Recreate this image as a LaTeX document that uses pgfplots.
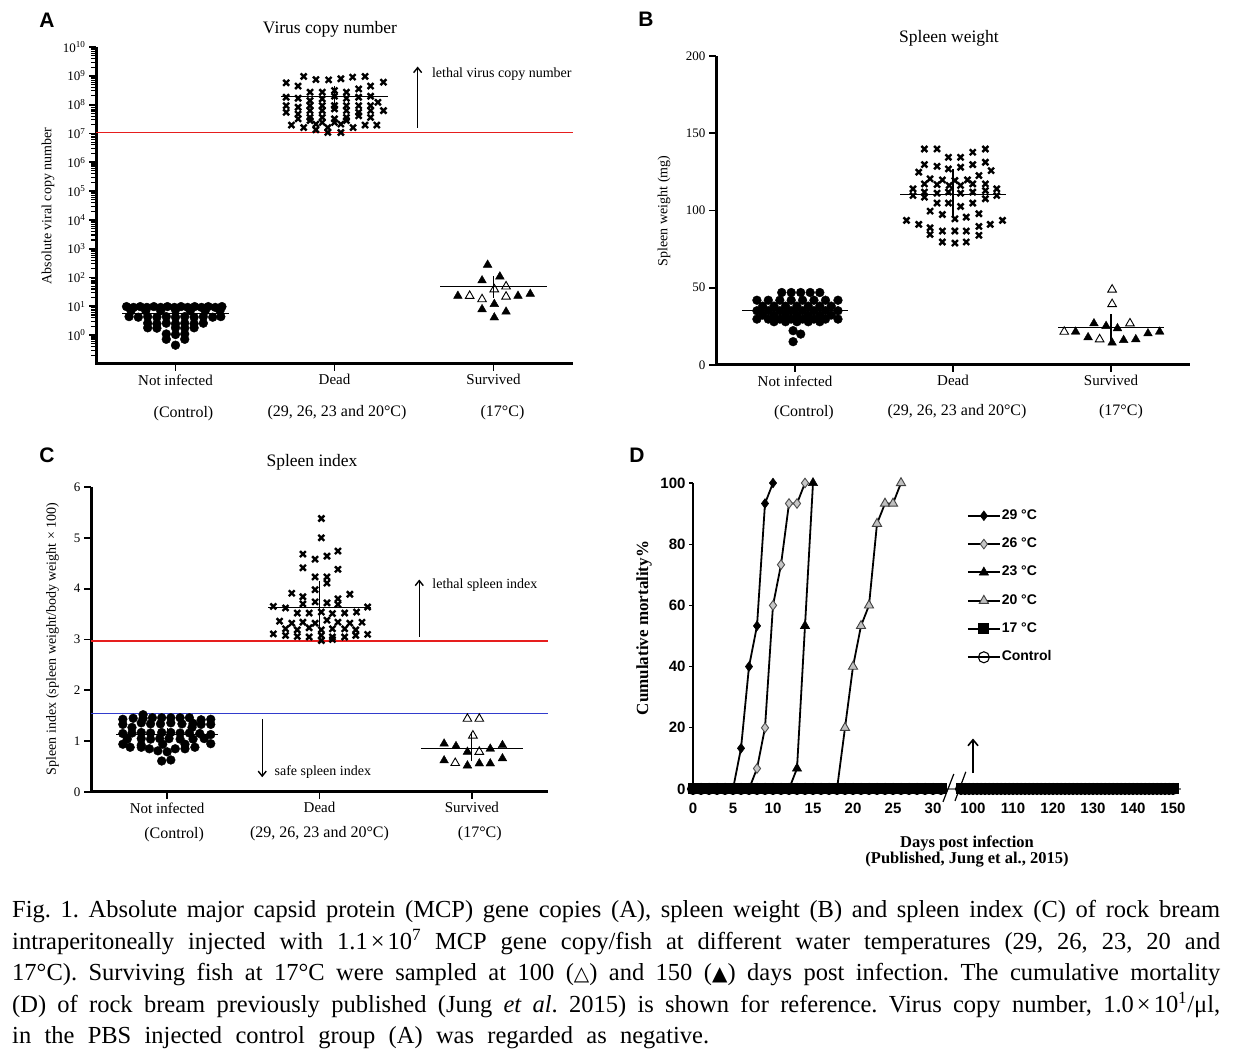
\documentclass[border=0pt]{standalone}
\usepackage{fontspec}
\setmainfont{Liberation Serif}
\newfontfamily\sansf{Liberation Sans}
\newfontfamily\symf{DejaVu Sans}
\usepackage{pgfplots}
\pgfplotsset{compat=1.18}
\usepackage{pgfplotstable}
\usetikzlibrary{arrows.meta}
\definecolor{lred}{RGB}{230,30,30}
\definecolor{lblue}{RGB}{50,60,205}
\newcommand{\fs}[2]{\fontsize{#1}{#2}\selectfont}
\frenchspacing

\tikzset{
 tk/.style={line width=1.8pt, black},
 mtk/.style={line width=1.1pt, black},
}
\pgfplotsset{
 swarm/.style={
  scale only axis, clip=false,
  axis lines=left, axis line style={draw=none},
  tick align=outside, major tick length=7pt, minor tick length=4pt,
  tick style={draw=none},
  xmin=0.5, xmax=3.5, xtick={1,2,3},
  xticklabel style={align=center, font=\fs{15}{18}},
  yticklabel style={font=\fs{13}{15}},
  /pgf/number format/assume math mode=true,
 },
 axl/.style={black, line width=3pt, no marks, forget plot},
 ctrl/.style={only marks, mark=*, mark size=4.4pt, black},
 dead/.style={only marks, mark=x, mark size=4.2pt, mark options={line width=2.4pt}, black},
 surva/.style={only marks, mark=triangle*, mark size=5pt, black},
 survb/.style={only marks, mark=triangle, mark size=5pt, black, mark options={fill=white, line width=0.9pt}},
 med/.style={black, line width=1.1pt, no marks},
}

\pgfplotstableread[row sep=\\]{
x y\\ 0 0\\ 1 0\\ 2 0\\ 3 0\\ 4 0\\ 5 0\\ 6 0\\ 7 0\\ 8 0\\ 9 0\\ 10 0\\ 11 0\\ 12 0\\ 13 0\\ 14 0\\ 15 0\\
16 0\\ 17 0\\ 18 0\\ 19 0\\ 20 0\\ 21 0\\ 22 0\\ 23 0\\ 24 0\\ 25 0\\ 26 0\\ 27 0\\ 28 0\\ 29 0\\ 30 0\\ 31 0\\
32 nan\\
33.5 0\\ 34 0\\ 34.5 0\\ 35 0\\ 35.5 0\\ 36 0\\ 36.5 0\\ 37 0\\ 37.5 0\\ 38 0\\ 38.5 0\\ 39 0\\ 39.5 0\\ 40 0\\
40.5 0\\ 41 0\\ 41.5 0\\ 42 0\\ 42.5 0\\ 43 0\\ 43.5 0\\ 44 0\\ 44.5 0\\ 45 0\\ 45.5 0\\ 46 0\\ 46.5 0\\ 47 0\\
47.5 0\\ 48 0\\ 48.5 0\\ 49 0\\ 49.5 0\\ 50 0\\ 50.5 0\\ 51 0\\ 51.5 0\\ 52 0\\ 52.5 0\\ 53 0\\ 53.5 0\\ 54 0\\
54.5 0\\ 55 0\\ 55.5 0\\ 56 0\\ 56.5 0\\ 57 0\\ 57.5 0\\ 58 0\\ 58.5 0\\ 59 0\\ 59.5 0\\ 60 0\\
}\zeroline

\begin{document}
\begin{tikzpicture}
\path[use as bounding box] (0pt,0pt) rectangle (1240pt,1056pt);

% ---------------- Panel A ----------------
\begin{axis}[swarm, at={(96pt,692pt)}, anchor=south west, width=477pt, height=317pt,
 ymode=log, ymin=0.1, ymax=1e10,
 ytick={1,10,100,1000,1e4,1e5,1e6,1e7,1e8,1e9,1e10},
 yticklabels={10\textsuperscript{0},10\textsuperscript{1},10\textsuperscript{2},10\textsuperscript{3},10\textsuperscript{4},10\textsuperscript{5},10\textsuperscript{6},10\textsuperscript{7},10\textsuperscript{8},10\textsuperscript{9},10\textsuperscript{10}},
 xticklabels={{Not infected\\[14pt]{\fs{16}{18}\hspace*{16pt}(Control)}},{Dead\\[14pt]{\fs{16}{18}\hspace*{5pt}(29, 26, 23 and 20°C)}},{Survived\\[14pt]{\fs{16}{18}\hspace*{18pt}(17°C)}}},
]
\addplot[axl] coordinates {(0.5,1e10) (0.5,0.1) (3.5,0.1)};
\pgfplotsinvokeforeach{1,2,3}{\draw[tk] (axis cs:#1,0.1) -- ([yshift=-7pt]axis cs:#1,0.1);}
\pgfplotsinvokeforeach{1,10,100,1000,1e4,1e5,1e6,1e7,1e8,1e9,1e10}{\draw[tk] (axis cs:0.5,#1) -- ([xshift=-7pt]axis cs:0.5,#1);}
\pgfplotsinvokeforeach{2e-1,3e-1,4e-1,5e-1,6e-1,7e-1,8e-1,9e-1,2,3,4,5,6,7,8,9,20,30,40,50,60,70,80,90,200,300,400,500,600,700,800,900,2e3,3e3,4e3,5e3,6e3,7e3,8e3,9e3,2e4,3e4,4e4,5e4,6e4,7e4,8e4,9e4,2e5,3e5,4e5,5e5,6e5,7e5,8e5,9e5,2e6,3e6,4e6,5e6,6e6,7e6,8e6,9e6,2e7,3e7,4e7,5e7,6e7,7e7,8e7,9e7,2e8,3e8,4e8,5e8,6e8,7e8,8e8,9e8,2e9,3e9,4e9,5e9,6e9,7e9,8e9,9e9}{\draw[mtk] (axis cs:0.5,#1) -- ([xshift=-5pt]axis cs:0.5,#1);}
\addplot[lred, line width=1.1pt, no marks] coordinates {(0.5,1.1e7) (3.5,1.1e7)};
\addplot[ctrl] coordinates {
(0.692,9.8)(0.736,9.2)(0.778,9.8)(0.820,9.2)(0.864,9.8)(0.907,9.2)(0.949,9.8)(0.993,9.2)(1.035,9.8)(1.077,9.2)(1.121,9.8)(1.164,9.2)(1.206,9.8)(1.250,9.2)(1.292,9.8)
(0.720,7)(0.813,7)(0.907,7)(1.000,7.5)(1.093,7)(1.187,7)(1.280,7)
(0.708,4.4)(0.766,4.2)(0.825,4.4)(0.883,4.2)(0.942,4.4)(1.000,4.2)(1.058,4.4)(1.117,4.2)(1.175,4.4)(1.234,4.2)(1.285,4.4)
(0.825,2.6)(0.883,2.5)(0.942,2.6)(1.0,2.5)(1.058,2.6)(1.117,2.5)(1.175,2.6)
(0.825,1.8)(0.883,1.75)(1.0,1.8)(1.058,1.75)(1.117,1.8)
(0.942,1.1)(1.0,1.05)(1.058,1.1)
(0.942,0.72)(1.058,0.72)
(1.0,0.45)};
\addplot[dead] coordinates {
(1.806,9.5e8)(1.883,7.4e8)(1.963,7.2e8)(2.040,7.9e8)(2.114,9.0e8)(2.192,9.5e8)
(1.696,5.7e8)(1.771,4.4e8)(2.227,4.4e8)(2.308,6.0e8)(2.152,3.5e8)
(1.846,2.7e8)(1.923,2.7e8)(2.000,3.1e8)(2.075,2.7e8)
(1.696,1.8e8)(1.771,1.66e8)(1.846,1.38e8)(1.923,1.58e8)(2.000,1.95e8)(2.075,1.66e8)(2.152,1.8e8)(2.227,1.95e8)
(1.696,9.2e7)(1.771,8.1e7)(1.846,9.2e7)(1.923,9.2e7)(2.000,9.2e7)(2.075,9.2e7)(2.152,9.2e7)(2.227,9.2e7)(2.273,1.2e8)
(1.696,5.4e7)(1.771,4.7e7)(1.846,6.2e7)(1.923,6.2e7)(2.000,7.1e7)(2.075,6.2e7)(2.152,5.4e7)(2.227,6.2e7)(2.308,6.2e7)
(1.771,3.2e7)(1.846,3.6e7)(1.923,3.6e7)(2.000,3.2e7)(2.075,3.6e7)(2.152,4.1e7)(2.227,3.6e7)
(1.846,2.8e7)(1.923,2.4e7)(2.000,2.4e7)(2.075,2.8e7)
(1.729,1.95e7)(1.806,1.6e7)(1.883,2.1e7)(1.958,1.6e7)(2.040,2.1e7)(2.117,1.6e7)(2.192,1.95e7)(2.266,1.95e7)
(1.883,1.34e7)(1.958,1.08e7)(2.040,1.08e7)};
\addplot[surva] coordinates {(2.963,276)(2.928,79)(3.040,108)(2.776,23)(3.154,23)(3.231,27)(3.005,12)(2.928,7.9)(3.079,6.5)(3.005,4.1)};
\addplot[survb] coordinates {(2.850,23)(2.928,17.6)(3.005,39)(3.079,49)(3.079,21.7)};
\addplot[med] coordinates {(0.665,5.7) (1.335,5.7)};
\addplot[med] coordinates {(1,4.6) (1,7.2)};
\addplot[med] coordinates {(1.665,1.95e8) (2.335,1.95e8)};
\addplot[med] coordinates {(2,1.0e8) (2,4.4e8)};
\addplot[med] coordinates {(2.665,49) (3.335,49)};
\addplot[med] coordinates {(3,20) (3,117)};
\draw[line width=1.4pt, -{Straight Barb[length=5pt,width=8pt]}] (axis cs:2.523,1.6e7) -- (axis cs:2.523,2.1e9);
\node[anchor=west, font=\fs{14}{16}, inner sep=0pt] at (axis cs:2.612,1.17e9) {lethal virus copy number};
\end{axis}

% ---------------- Panel B ----------------
\begin{axis}[swarm, at={(716pt,691pt)}, anchor=south west, width=474pt, height=309pt,
 ymin=0, ymax=200, ytick={0,50,100,150,200},
 xticklabels={{Not infected\\[12pt]{\fs{16}{18}\hspace*{18pt}(Control)}},{Dead\\[12pt]{\fs{16}{18}\hspace*{8pt}(29, 26, 23 and 20°C)}},{Survived\\[12pt]{\fs{16}{18}\hspace*{20pt}(17°C)}}},
]
\addplot[axl] coordinates {(0.5,200) (0.5,0) (3.5,0)};
\pgfplotsinvokeforeach{1,2,3}{\draw[tk] (axis cs:#1,0) -- ([yshift=-7pt]axis cs:#1,0);}
\pgfplotsinvokeforeach{0,50,100,150,200}{\draw[tk] (axis cs:0.5,#1) -- ([xshift=-7pt]axis cs:0.5,#1);}
\addplot[ctrl] coordinates {
(0.916,46.9)(0.976,46.9)(1.036,46.9)(1.096,46.9)(1.157,46.9)
(0.759,41.9)(0.831,41.9)(0.904,41.9)(0.976,41.9)(1.048,41.9)(1.120,41.9)(1.193,41.9)(1.272,41.9)
(0.795,38.1)(0.867,38.1)(0.940,38.1)(1.012,38.1)(1.084,38.1)(1.157,38.1)(1.229,38.1)
(0.759,35.1)(0.831,35.1)(0.904,35.1)(0.976,35.1)(1.048,35.1)(1.120,35.1)(1.193,35.1)(1.272,35.1)
(0.795,32.3)(0.867,32.3)(0.940,32.3)(1.012,32.3)(1.084,32.3)(1.157,32.3)(1.229,32.3)
(0.759,29.7)(0.831,29.7)(0.904,29.7)(0.976,29.7)(1.048,29.7)(1.120,29.7)(1.193,29.7)(1.272,29.7)
(0.867,28.0)(0.940,28.0)(1.012,28.0)(1.084,28.0)(1.157,28.0)
(0.988,22.2)(1.036,20.0)(0.988,15.1)};
\addplot[dead] coordinates {
(1.819,139.8)(1.899,139.8)(1.971,134.4)(2.048,134.4)(2.125,137.7)(2.205,139.8)
(1.819,129.7)(1.899,128.6)(1.971,126.9)(2.048,128.0)(2.125,129.7)(2.205,131.2)
(1.783,124.8)(2.241,125.8)(2.164,122.6)
(1.855,120.5)(1.933,119.8)(2.012,119.4)(2.092,119.8)(2.125,117.2)(2.205,117.2)
(1.819,117.2)(1.899,116.8)(1.976,116.2)(2.048,116.2)
(1.747,114.0)(1.819,111.9)(1.899,111.2)(1.971,111.9)(2.048,111.2)(2.125,111.9)(2.205,112.9)(2.277,114.0)
(1.747,109.7)(1.819,108.6)(2.277,109.7)(2.205,107.6)
(1.899,104.8)(1.971,104.8)(2.125,104.8)(2.048,102.6)
(1.855,99.6)(1.933,97.4)(2.012,94.6)(2.084,95.7)(2.164,97.9)
(1.706,93.6)(1.783,91.0)(2.313,93.6)(2.236,91.0)(2.164,89.7)
(1.855,88.8)(1.933,86.7)(2.012,86.7)(2.084,86.7)(2.164,83.9)(1.855,84.5)
(1.933,79.6)(2.012,78.9)(2.084,79.6)};
\addplot[surva] coordinates {(2.892,26.9)(2.969,25.2)(3.041,23.7)(2.776,21.5)(2.855,17.9)(3.007,14.4)(3.080,16.1)(3.157,16.6)(3.234,20.4)(3.308,21.5)};
\addplot[survb] coordinates {(3.007,48.8)(3.007,39.4)(3.120,26.9)(2.704,21.5)(2.928,16.6)};
\addplot[med] coordinates {(0.665,35.5) (1.335,35.5)};
\addplot[med] coordinates {(1,31) (1,40)};
\addplot[med] coordinates {(1.665,110.1) (2.335,110.1)};
\addplot[med] coordinates {(2,96) (2,127)};
\addplot[med] coordinates {(2.665,24.3) (3.335,24.3)};
\addplot[med] coordinates {(3,14.5) (3,33)};
\end{axis}

% ---------------- Panel C ----------------
\begin{axis}[swarm, at={(91pt,264pt)}, anchor=south west, width=457pt, height=305pt,
 ymin=0, ymax=6, ytick={0,1,2,3,4,5,6},
 xticklabels={{Not infected\\[7pt]{\fs{16}{18}\hspace*{14pt}(Control)}},{Dead\\[7pt]{\fs{16}{18}(29, 26, 23 and 20°C)}},{Survived\\[7pt]{\fs{16}{18}\hspace*{16pt}(17°C)}}},
]
\addplot[axl] coordinates {(0.5,6) (0.5,0) (3.5,0)};
\pgfplotsinvokeforeach{1,2,3}{\draw[tk] (axis cs:#1,0) -- ([yshift=-7pt]axis cs:#1,0);}
\pgfplotsinvokeforeach{0,1,2,3,4,5,6}{\draw[tk] (axis cs:0.5,#1) -- ([xshift=-7pt]axis cs:0.5,#1);}
\addplot[lred, line width=1.2pt, no marks] coordinates {(0.5,2.97) (3.5,2.97)};
\addplot[lblue, line width=1.4pt, no marks] coordinates {(0.5,1.54) (3.5,1.54)};
\addplot[ctrl] coordinates {
(0.709,1.43)(0.777,1.45)(0.842,1.45)(0.903,1.46)(0.964,1.46)(1.024,1.46)(1.085,1.46)(1.146,1.46)(1.223,1.42)(1.286,1.43)
(0.842,1.52)
(0.709,1.33)(0.830,1.36)(0.891,1.34)(0.956,1.34)(1.024,1.36)(1.097,1.34)(1.170,1.35)(1.223,1.33)(1.286,1.33)
(0.769,1.27)(1.163,1.27)
(0.709,1.15)(0.769,1.16)(0.830,1.17)(0.891,1.16)(0.964,1.17)(1.024,1.17)(1.085,1.16)(1.146,1.16)(1.214,1.15)(1.286,1.13)
(0.738,1.04)(0.830,1.05)(0.891,1.04)(0.951,1.05)(1.012,1.05)(1.085,1.04)(1.170,1.04)(1.243,1.05)
(0.709,0.94)(0.830,0.92)(0.971,0.94)(1.117,0.94)(1.286,0.95)
(0.757,0.88)(0.830,0.88)(0.883,0.85)(0.939,0.81)(1.053,0.85)(1.117,0.85)(1.182,0.88)
(1.0,0.79)
(0.964,0.61)(1.024,0.63)};
\addplot[dead] coordinates {
(2.012,5.38)(2.012,5.00)
(1.891,4.68)(1.971,4.58)(2.049,4.64)(2.121,4.74)
(1.891,4.41)(2.121,4.38)(1.971,4.23)(2.049,4.23)(2.049,4.11)(1.971,3.98)
(1.818,3.91)(2.199,3.89)(1.891,3.84)(2.121,3.80)
(1.891,3.70)(1.971,3.74)(2.049,3.72)(2.121,3.69)
(1.697,3.65)(1.777,3.62)(2.316,3.64)
(1.854,3.52)(1.932,3.52)(2.012,3.54)(2.085,3.51)(2.165,3.52)(2.243,3.54)
(1.738,3.36)(1.818,3.32)(1.891,3.34)(1.971,3.32)(2.049,3.38)(2.121,3.34)(2.199,3.32)(2.279,3.34)
(1.777,3.21)(1.854,3.19)(1.932,3.23)(2.012,3.19)(2.085,3.21)(2.165,3.21)(2.238,3.19)
(1.697,3.11)(1.777,3.08)(1.854,3.06)(1.932,3.05)(2.012,3.08)(2.085,3.05)(2.165,3.05)(2.238,3.08)(2.316,3.10)
(2.012,2.98)(2.085,3.00)};
\addplot[surva] coordinates {(2.818,0.95)(2.896,0.90)(2.971,0.79)(3.121,0.85)(3.201,0.92)(2.818,0.62)(2.971,0.52)(3.049,0.56)(3.121,0.56)(3.201,0.66)};
\addplot[survb] coordinates {(2.971,1.44)(3.049,1.44)(3.007,1.11)(3.049,0.79)(2.891,0.57)};
\addplot[med] coordinates {(0.665,1.13) (1.335,1.13)};
\addplot[med] coordinates {(1,1.05) (1,1.25)};
\addplot[med] coordinates {(1.665,3.63) (2.335,3.63)};
\addplot[med] coordinates {(2,3.05) (2,4.16)};
\addplot[med] coordinates {(2.665,0.85) (3.335,0.85)};
\addplot[med] coordinates {(3,0.6) (3,1.18)};
\draw[line width=1.4pt, -{Straight Barb[length=5pt,width=8pt]}] (axis cs:2.655,3.05) -- (axis cs:2.655,4.18);
\node[anchor=west, font=\fs{14}{16}, inner sep=0pt] at (axis cs:2.74,4.07) {lethal spleen index};
\draw[line width=1.4pt, -{Straight Barb[length=5pt,width=8pt]}] (axis cs:1.624,1.44) -- (axis cs:1.624,0.29);
\node[anchor=west, font=\fs{14}{16}, inner sep=0pt] at (axis cs:1.704,0.39) {safe spleen index};
\end{axis}

% ---------------- Panel D ----------------
\begin{axis}[scale only axis, clip=false, at={(693pt,267pt)}, anchor=south west, width=488pt, height=306pt,
 xmin=0, xmax=61, ymin=0, ymax=100,
 axis lines=left, axis line style={draw=none},
 xtick={0,5,10,15,20,25,30,35,40,45,50,55,60},
 xticklabels={0,5,10,15,20,25,30,100,110,120,130,140,150},
 ytick={0,20,40,60,80,100},
 tick align=outside, major tick length=4pt, tick style={draw=none},
 ticklabel style={font=\sansf\bfseries\fs{15}{17}},
 xticklabel style={yshift=-7pt},
 /pgf/number format/assume math mode=true,
 unbounded coords=jump,
 legend image code/.code={\draw[mark repeat=2,mark phase=2,#1] plot coordinates {(0pt,0pt) (16pt,0pt) (32pt,0pt)};},
 legend style={at={(0.561,0.918)}, anchor=north west, draw=none, fill=none, inner sep=0pt,
   font=\sansf\bfseries\fs{14}{16}, row sep=13.3pt, nodes={inner sep=1pt, text height=10pt, text depth=3pt}},
 legend cell align=left,
]
\addplot[gray, line width=1.3pt, no marks, forget plot] coordinates {(0,0) (61,0)};
\addplot[black, line width=1.8pt, no marks, forget plot] coordinates {(0,0) (0,100)};
\pgfplotsinvokeforeach{0,20,40,60,80,100}{\draw[line width=1.2pt, black] (axis cs:0,#1) -- ([xshift=-4pt]axis cs:0,#1);}
\addplot[black, line width=1.8pt, mark=diamond*, mark size=4.8pt, mark options={solid, fill=black, line width=0.6pt}] coordinates {
(0,0)(1,0)(2,0)(3,0)(4,0)(5,0)(6,13.3)(7,40)(8,53.3)(9,93.3)(10,100)};
\addlegendentry{29 °C}
\addplot[black, line width=1.8pt, mark=diamond*, mark size=4.8pt, mark options={solid, fill=gray!45, draw=black!70, line width=0.9pt}] coordinates {
(0,0)(1,0)(2,0)(3,0)(4,0)(5,0)(6,0)(7,0)(8,6.7)(9,20)(10,60)(11,73.3)(12,93.3)(13,93.3)(14,100)};
\addlegendentry{26 °C}
\addplot[black, line width=1.8pt, mark=triangle*, mark size=5.3pt, mark options={solid, fill=black, line width=0.6pt}] coordinates {
(0,0)(1,0)(2,0)(3,0)(4,0)(5,0)(6,0)(7,0)(8,0)(9,0)(10,0)(11,0)(12,0)(13,6.7)(14,53.3)(15,100)};
\addlegendentry{23 °C}
\addplot[black, line width=1.8pt, mark=triangle*, mark size=5.3pt, mark options={solid, fill=gray!50, draw=black!75, line width=0.9pt}] coordinates {
(0,0)(1,0)(2,0)(3,0)(4,0)(5,0)(6,0)(7,0)(8,0)(9,0)(10,0)(11,0)(12,0)(13,0)(14,0)(15,0)(16,0)(17,0)(18,0)(19,20)(20,40)(21,53.3)(22,60)(23,86.7)(24,93.3)(25,93.3)(26,100)};
\addlegendentry{20 °C}
\addplot[black, line width=1.8pt, mark=square*, mark size=4.6pt, mark options={solid, fill=black}] table[x=x, y=y] {\zeroline};
\addlegendentry{17 °C}
\addplot[black, line width=1.8pt, mark=o, mark size=5.5pt, mark options={solid, line width=1.1pt}] table[x=x, y=y] {\zeroline};
\addlegendentry{Control}
\draw[line width=1.2pt] (axis cs:31.25,-4.2) -- (axis cs:32.6,4.9);
\draw[line width=1.2pt] (axis cs:32.75,-3.9) -- (axis cs:34.1,5.6);
\draw[line width=1.6pt, -{Straight Barb[length=6pt,width=10pt]}] (axis cs:35,5.2) -- (axis cs:35,16.5);
\end{axis}

% ---------------- Text ----------------
\node[font=\sansf\bfseries\fs{21}{24}] at (47pt,1036pt) {A};
\node[font=\sansf\bfseries\fs{21}{24}] at (646pt,1037pt) {B};
\node[font=\sansf\bfseries\fs{21}{24}] at (47pt,601pt) {C};
\node[font=\sansf\bfseries\fs{21}{24}] at (637pt,601pt) {D};
\node[font=\fs{17.5}{20}] at (330pt,1027pt) {Virus copy number};
\node[font=\fs{17.5}{20}] at (949pt,1018pt) {Spleen weight};
\node[font=\fs{17.5}{20}] at (312pt,594pt) {Spleen index};
\node[font=\fs{14}{16}, rotate=90] at (48pt,850pt) {Absolute viral copy number};
\node[font=\fs{14}{16}, rotate=90] at (664pt,845pt) {Spleen weight (mg)};
\node[font=\fs{14}{16}, rotate=90] at (52.5pt,417pt) {Spleen index (spleen weight/body weight × 100)};
\node[font=\bfseries\fs{17}{19}, rotate=90] at (644pt,428pt) {Cumulative mortality\%};
\node[font=\bfseries\fs{16.5}{18}] at (967pt,213pt) {Days post infection};
\node[font=\bfseries\fs{16.5}{18}] at (967pt,196pt) {(Published, Jung et al., 2015)};

\node[anchor=base west, inner sep=0pt, font=\fs{24.5}{28}] at (12pt,138.7pt) {\makebox[1208pt][s]{Fig. 1. Absolute major capsid protein (MCP) gene copies (A), spleen weight (B) and spleen index (C) of rock bream}};
\node[anchor=base west, inner sep=0pt, font=\fs{24.5}{28}] at (12pt,106.7pt) {\makebox[1208pt][s]{intraperitoneally injected with 1.1\kern3pt×\kern3pt10\textsuperscript{7} MCP gene copy/fish at different water temperatures (29, 26, 23, 20 and}};
\node[anchor=base west, inner sep=0pt, font=\fs{24.5}{28}] at (12pt,75.3pt) {\makebox[1208pt][s]{17°C). Surviving fish at 17°C were sampled at 100 ({\symf\fs{20}{22}△}) and 150 ({\symf\fs{20}{22}▲}) days post infection. The cumulative mortality}};
\node[anchor=base west, inner sep=0pt, font=\fs{24.5}{28}] at (12pt,43.7pt) {\makebox[1208pt][s]{(D) of rock bream previously published (Jung \textit{et al}. 2015) is shown for reference. Virus copy number, 1.0\kern3pt×\kern3pt10\textsuperscript{1}/μl,}};
\node[anchor=base west, inner sep=0pt, font=\fs{24.5}{28}] at (12pt,12pt) {\makebox[697pt][s]{in the PBS injected control group (A) was regarded as negative.}};
\end{tikzpicture}
\end{document}
